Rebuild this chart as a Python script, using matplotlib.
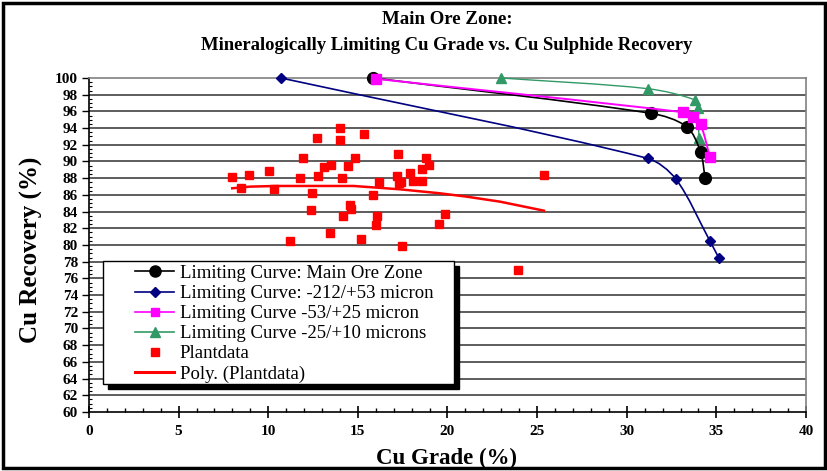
import numpy as np
import matplotlib
matplotlib.use("Agg")
import matplotlib.pyplot as plt
from matplotlib.path import Path
from matplotlib.patches import PathPatch, Rectangle
from matplotlib.lines import Line2D
from matplotlib.ticker import MultipleLocator

SERIF = ["Liberation Serif", "DejaVu Serif"]
plt.rcParams['font.family'] = SERIF

# ---------------- data ----------------
main_x = [15.85, 31.36, 33.34, 34.12, 34.37]
main_y = [100.0, 95.77, 94.17, 91.14, 88.02]

c212_x = [10.71, 31.16, 32.75, 34.64, 35.13]
c212_y = [100.0, 90.38, 87.87, 80.48, 78.48]

c53_x = [16.0, 33.14, 33.72, 34.12, 34.64]
c53_y = [99.9, 95.9, 95.3, 94.45, 90.54]

c25_x = [22.98, 31.17, 33.80, 33.95, 34.03]
c25_y = [100.0, 98.72, 97.37, 96.37, 92.78]

plant_x = [14.02, 12.70, 14.02, 15.32, 11.96, 14.84, 17.24, 18.80, 18.97, 18.58,
           13.11, 13.52, 14.43, 12.77, 11.79, 10.06, 8.91, 7.99, 8.50, 10.30,
           14.09, 16.16, 17.16, 17.28, 17.41, 17.89, 18.05, 18.55, 25.38, 12.46,
           15.82, 12.36, 14.58, 14.59, 14.19, 16.08, 15.99, 19.88, 19.54, 13.44,
           15.17, 11.21, 17.48, 23.93]
plant_y = [93.97, 92.85, 92.57, 93.29, 90.42, 90.42, 90.86, 90.42, 89.58, 89.06,
           89.38, 89.58, 89.42, 88.26, 87.98, 88.86, 88.38, 88.10, 86.79, 86.67,
           87.98, 87.54, 88.26, 87.46, 87.58, 88.58, 87.70, 87.70, 88.38, 86.23,
           85.99, 84.23, 84.75, 84.31, 83.51, 83.51, 82.36, 83.68, 82.48, 81.47,
           80.76, 80.48, 79.92, 77.00]

trend_x = [7.99, 8.98, 10.47, 14.75, 16.05, 17.35, 19.58, 21.07, 22.93, 25.38]
trend_y = [86.79, 86.99, 87.07, 87.07, 86.87, 86.67, 86.19, 85.79, 85.19, 84.11]

x_ticks = [0, 5, 10, 15, 20, 25, 30, 35, 40]
y_ticks = list(range(60, 101, 2))

labels = ["Limiting Curve: Main Ore Zone",
          "Limiting Curve: -212/+53 micron",
          "Limiting Curve -53/+25 micron",
          "Limiting Curve -25/+10 microns",
          "Plantdata",
          "Poly. (Plantdata)"]

title1 = "Main Ore Zone:"
title2 = "Mineralogically Limiting Cu Grade vs. Cu Sulphide Recovery"
xlabel = "Cu Grade (%)"
ylabel = "Cu Recovery (%)"

# ---------------- figure ----------------
W, H = 828, 471
fig = plt.figure(figsize=(W / 100, H / 100), dpi=100)
fig.patch.set_facecolor("white")

L, R, T, B = 89, 806, 78, 412
ax = fig.add_axes([L / W, 1 - B / H, (R - L) / W, (B - T) / H])
ax.set_xlim(0, 40)
ax.set_ylim(60, 100)
SX = (R - L) / 40.0
SY = (B - T) / 40.0

# gridlines
for yv in y_ticks[1:-1]:
    ax.axhline(yv, color="#303030", lw=1.1, zorder=1)

for s in ["top", "right"]:
    ax.spines[s].set_color("#808080")
    ax.spines[s].set_linewidth(1.2)
for s in ["left", "bottom"]:
    ax.spines[s].set_color("black")
    ax.spines[s].set_linewidth(1.2)


def smooth_path(xs, ys):
    # smoothing computed in pixel-like units, handles limited by segment length
    pts = np.column_stack([np.asarray(xs) * SX, np.asarray(ys) * SY]).astype(float)
    n = len(pts)
    tang = []
    for i in range(n):
        a = pts[i - 1] if i > 0 else pts[i]
        b = pts[i + 1] if i < n - 1 else pts[i]
        d = b - a
        tang.append(d / (np.hypot(*d) + 1e-12))
    verts = [pts[0]]
    codes = [Path.MOVETO]
    for i in range(n - 1):
        p1, p2 = pts[i], pts[i + 1]
        seg = np.hypot(*(p2 - p1))
        c1 = p1 + tang[i] * seg * 0.3
        c2 = p2 - tang[i + 1] * seg * 0.3
        verts += [c1, c2, p2]
        codes += [Path.CURVE4] * 3
    verts = np.array(verts)
    verts[:, 0] /= SX
    verts[:, 1] /= SY
    return Path(verts, codes)


def smooth_series(xs, ys, color, lw, marker, ms, z):
    ax.add_patch(PathPatch(smooth_path(xs, ys), fill=False, edgecolor=color,
                           lw=lw, zorder=z, clip_on=False))
    ax.plot(xs, ys, ls="none", marker=marker, ms=ms, color=color,
            mec=color, zorder=z + 0.5, clip_on=False)


NAVY = "#000080"
MAG = "#FF00FF"
GRN = "#339966"
RED = "#FF0000"

smooth_series(c212_x, c212_y, NAVY, 1.2, "D", 5.0, 3)
smooth_series(c25_x, c25_y, GRN, 1.0, "^", 7.5, 3)
smooth_series(main_x, main_y, "black", 1.2, "o", 8.5, 4)
smooth_series(c53_x, c53_y, MAG, 1.4, "s", 6.5, 5)

ax.plot(plant_x, plant_y, ls="none", marker="s", ms=6, color=RED, zorder=6)
ax.plot(trend_x, trend_y, color=RED, lw=1.8, zorder=6)

# ticks
ax.set_xticks(x_ticks)
ax.set_yticks(y_ticks)
ax.xaxis.set_minor_locator(MultipleLocator(1))
ax.yaxis.set_minor_locator(MultipleLocator(0.5))
tickfont = dict(family=SERIF, weight="bold", size=11)
ax.set_xticklabels([str(v) for v in x_ticks], **tickfont)
ax.set_yticklabels([str(v) for v in y_ticks], **tickfont)
ax.tick_params(axis="x", which="major", direction="inout", length=9, width=1.2, pad=5)
ax.tick_params(axis="x", which="minor", direction="in", length=3, width=1.0)
ax.tick_params(axis="y", which="major", direction="out", length=5, width=1.0, pad=3)
ax.tick_params(axis="y", which="minor", direction="in", length=2, width=0.8)

# titles and labels
fig.text(447 / W, 1 - 20 / H, title1, ha="center", va="center",
         family=SERIF, weight="bold", size=13.6)
fig.text(447 / W, 1 - 46 / H, title2, ha="center", va="center",
         family=SERIF, weight="bold", size=13.4)
fig.text(447 / W, 1 - 458 / H, xlabel, ha="center", va="center",
         family=SERIF, weight="bold", size=16.5)
fig.text(31 / W, 1 - 250 / H, ylabel, ha="center", va="center", rotation=90,
         family=SERIF, weight="bold", size=18)

# legend box with shadow
lx0, lx1, ly0, ly1 = 103, 454, 261, 384
fig.patches.append(Rectangle(((lx0 + 5) / W, 1 - (ly1 + 5) / H), (lx1 - lx0) / W,
                             (ly1 - ly0) / H, transform=fig.transFigure,
                             facecolor="black", edgecolor="black", zorder=8))
fig.patches.append(Rectangle((lx0 / W, 1 - ly1 / H), (lx1 - lx0) / W,
                             (ly1 - ly0) / H, transform=fig.transFigure,
                             facecolor="white", edgecolor="black", lw=1.0, zorder=9))

handles = [
    Line2D([], [], color="black", lw=1.2, marker="o", ms=8),
    Line2D([], [], color=NAVY, lw=1.2, marker="D", ms=5),
    Line2D([], [], color=MAG, lw=1.2, marker="s", ms=6),
    Line2D([], [], color=GRN, lw=1.2, marker="^", ms=7),
    Line2D([], [], color=RED, ls="none", marker="s", ms=6),
    Line2D([], [], color=RED, lw=2.2),
]
leg = fig.legend(handles, labels, loc="upper left",
                 bbox_to_anchor=(133 / W, 1 - 263 / H), frameon=False,
                 prop=dict(family=SERIF, size=13.5), handlelength=2.1,
                 handletextpad=0.3, labelspacing=0.16, borderpad=0.1,
                 borderaxespad=0)
leg.set_zorder(10)

# figure border
fig.patches.append(Rectangle((3 / W, 3 / H), (W - 6) / W, (H - 6) / H,
                             transform=fig.transFigure, fill=False,
                             edgecolor="black", lw=2.5, zorder=20))

fig.savefig("out.png", dpi=100)
